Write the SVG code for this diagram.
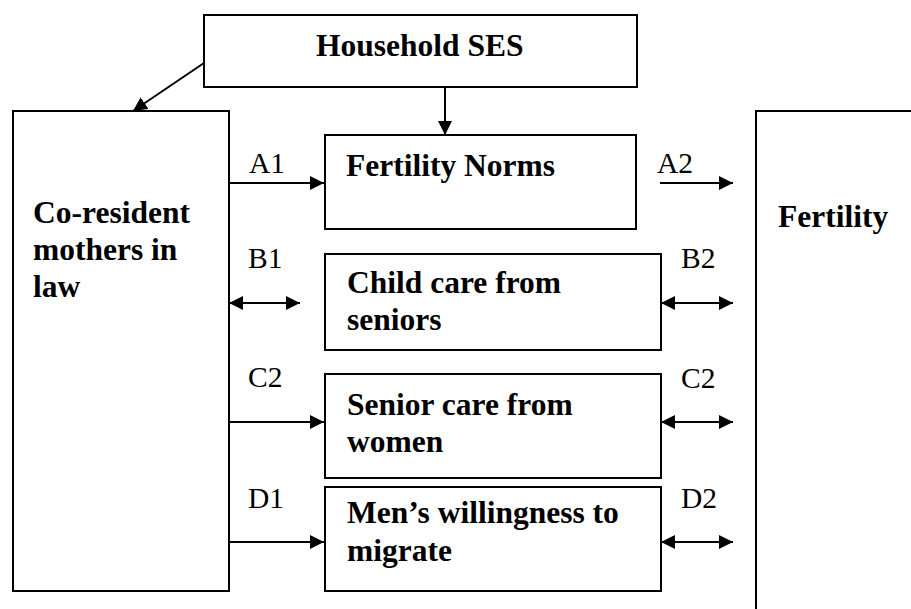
<svg xmlns="http://www.w3.org/2000/svg" width="911" height="609" viewBox="0 0 911 609">
<defs>
<marker id="ah" markerUnits="userSpaceOnUse" markerWidth="16" markerHeight="16" refX="14" refY="7" orient="auto-start-reverse">
<path d="M0,0 L14,7 L0,14 Z" fill="#000"/>
</marker>
</defs>
<style>
.box{fill:#fff;stroke:#000;stroke-width:2}
.t{font-family:"Liberation Serif","Times New Roman",serif;font-weight:bold;font-size:31.5px;fill:#000}
.l{font-family:"Liberation Serif","Times New Roman",serif;font-size:29.5px;fill:#000}
.c{stroke:#000;stroke-width:2;fill:none}
.one{marker-end:url(#ah)}
.two{marker-start:url(#ah);marker-end:url(#ah)}
</style>
<rect width="911" height="609" fill="#fff"/>
<g id="ses">
<rect class="box" x="204" y="15" width="433" height="72"/>
<text class="t" x="316" y="56">Household SES</text>
</g>
<g id="mil">
<rect class="box" x="13" y="111" width="216" height="480"/>
<text class="t" x="33" y="223">Co-resident</text>
<text class="t" x="33" y="260">mothers in</text>
<text class="t" x="33" y="297">law</text>
</g>
<g id="norms">
<rect class="box" x="325" y="135" width="311" height="94"/>
<text class="t" x="346" y="176">Fertility Norms</text>
</g>
<g id="childcare">
<rect class="box" x="325" y="254" width="336" height="96"/>
<text class="t" x="347" y="293">Child care from</text>
<text class="t" x="347" y="330">seniors</text>
</g>
<g id="seniorcare">
<rect class="box" x="325" y="374" width="336" height="104"/>
<text class="t" x="347" y="415">Senior care from</text>
<text class="t" x="347" y="452">women</text>
</g>
<g id="migrate">
<rect class="box" x="325" y="487" width="336" height="104"/>
<text class="t" x="347" y="523">Men’s willingness to</text>
<text class="t" x="347" y="561">migrate</text>
</g>
<g id="fertility">
<path class="c" d="M756,609 V111 H911"/>
<text class="t" x="778" y="227">Fertility</text>
</g>
<g id="connectors">
<line class="c one" x1="204" y1="63" x2="133" y2="111"/>
<line class="c one" x1="445" y1="87" x2="445" y2="135"/>
<line class="c one" x1="229" y1="183" x2="324" y2="183"/>
<line class="c one" x1="660" y1="183" x2="733" y2="183"/>
<line class="c two" x1="229" y1="303" x2="300" y2="303"/>
<line class="c two" x1="661" y1="303" x2="733" y2="303"/>
<line class="c one" x1="229" y1="422" x2="324" y2="422"/>
<line class="c two" x1="661" y1="422" x2="733" y2="422"/>
<line class="c one" x1="229" y1="542" x2="324" y2="542"/>
<line class="c two" x1="661" y1="542" x2="733" y2="542"/>
<text class="l" x="249" y="173">A1</text>
<text class="l" x="657" y="173">A2</text>
<text class="l" x="248" y="268">B1</text>
<text class="l" x="681" y="268">B2</text>
<text class="l" x="248" y="387">C2</text>
<text class="l" x="681" y="388">C2</text>
<text class="l" x="248" y="508">D1</text>
<text class="l" x="681" y="508">D2</text>
</g>
</svg>
